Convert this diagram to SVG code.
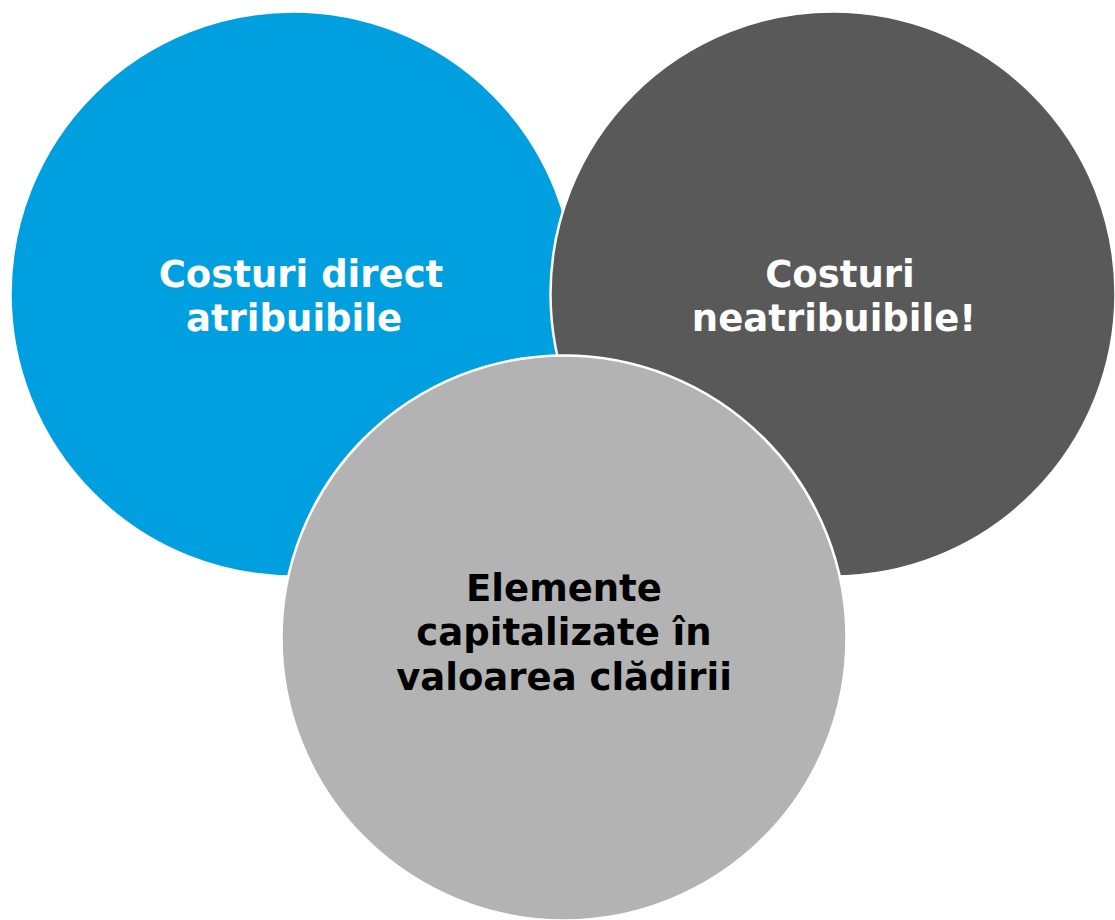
<svg xmlns="http://www.w3.org/2000/svg" width="1115" height="920" viewBox="0 0 1115 920">
<style>
.c{stroke:#FFFFFF;stroke-width:2.5}
.t{font-family:"DejaVu Sans","Verdana",sans-serif;font-weight:bold;font-size:37px;text-anchor:middle}
.w{fill:#FFFFFF}
.k{fill:#000000}
</style>
<rect width="1115" height="920" fill="#FFFFFF"/>
<g id="node-direct">
<circle class="c" cx="293" cy="294" r="282.5" fill="#009FDF"/>
<text class="t w" x="301" y="287">Costuri direct</text>
<text class="t w" x="294" y="331">atribuibile</text>
</g>
<g id="node-neatribuibile">
<circle class="c" cx="833" cy="294" r="282.5" fill="#595959"/>
<text class="t w" x="840" y="287">Costuri</text>
<text class="t w" x="834" y="331">neatribuibile!</text>
</g>
<g id="node-elemente">
<circle class="c" cx="564" cy="638" r="282.5" fill="#B3B3B3"/>
<text class="t k" x="564" y="601">Elemente</text>
<text class="t k" x="564" y="645">capitalizate în</text>
<text class="t k" x="564" y="690">valoarea clădirii</text>
</g>
<g id="connectors"></g>
</svg>
